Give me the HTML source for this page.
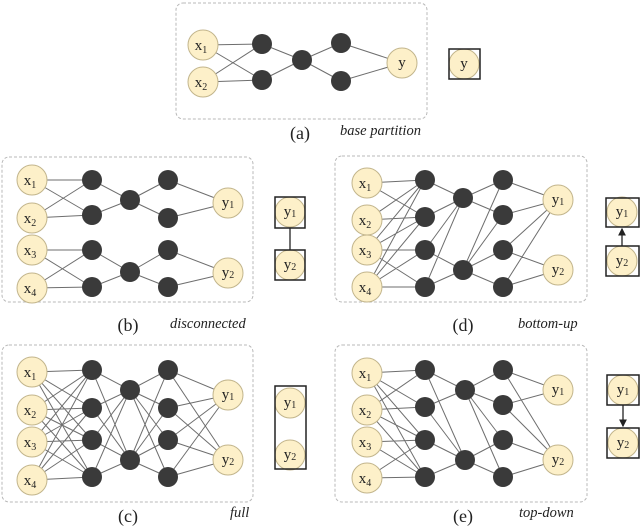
<!DOCTYPE html>
<html><head><meta charset="utf-8"><style>
html,body{margin:0;padding:0;background:#fff;}
svg{display:block;}
.e{stroke:#6e6e6e;stroke-width:1;fill:none;}
.box{fill:none;stroke:#b8b8b8;stroke-width:1;stroke-dasharray:3,2;}
.in{fill:#fdf0c9;stroke:#c2b58c;stroke-width:1;}
.h{fill:#3a3a3a;}
.t{font-family:"Liberation Serif",serif;font-size:15px;fill:#222;text-anchor:middle;}
.s{font-size:10px;}
.lab{font-family:"Liberation Serif",serif;font-size:18px;fill:#222;text-anchor:middle;}
.it{font-family:"Liberation Serif",serif;font-size:14.5px;font-style:italic;fill:#222;}
.sq{fill:none;stroke:#222;stroke-width:1.5;}
</style></head><body>
<svg width="640" height="527" viewBox="0 0 640 527" xmlns="http://www.w3.org/2000/svg">
<defs><marker id="ar" markerWidth="6" markerHeight="6" refX="5" refY="3" orient="auto"><path d="M0 0L6 3L0 6z" fill="#222"/></marker></defs>
<rect class="box" x="176" y="3" width="251" height="116" rx="7"/>
<rect class="box" x="2" y="157" width="251" height="145" rx="7"/>
<rect class="box" x="335" y="156" width="252" height="146" rx="7"/>
<rect class="box" x="2" y="345" width="251" height="157" rx="7"/>
<rect class="box" x="335" y="345" width="252" height="157" rx="7"/>

<path class="e" d="M203 45L262 44M203 45L262 80M203 82L262 44M203 82L262 80M262 44L302 60M262 80L302 60M302 60L341 43M302 60L341 81M341 43L402 63M341 81L402 63"/>
<path class="e" d="M32 180L92 180M32 180L92 215M32 218L92 180M32 218L92 215M92 180L130 200M92 215L130 200M130 200L168 180M130 200L168 218M168 180L228 203M168 218L228 203
M32 250L92 250M32 250L92 287M32 288L92 250M32 288L92 287M92 250L130 272M92 287L130 272M130 272L168 250M130 272L168 287M168 250L228 273M168 287L228 273"/>
<path class="e" d="M32 372L92 370M32 372L92 408M32 372L92 440M32 372L92 477
M32 410L92 370M32 410L92 408M32 410L92 440M32 410L92 477
M32 442L92 370M32 442L92 408M32 442L92 440M32 442L92 477
M32 480L92 370M32 480L92 408M32 480L92 440M32 480L92 477
M92 370L130 390M92 408L130 390M92 440L130 390M92 477L130 390
M92 370L130 460M92 408L130 460M92 440L130 460M92 477L130 460
M130 390L168 370M130 390L168 408M130 390L168 440M130 390L168 477
M130 460L168 370M130 460L168 408M130 460L168 440M130 460L168 477
M168 370L228 395M168 408L228 395M168 440L228 395M168 477L228 395
M168 370L228 460M168 408L228 460M168 440L228 460M168 477L228 460"/>
<path class="e" d="M367 183L425 180M367 183L425 217M367 220L425 180M367 220L425 217
M367 250L425 180M367 250L425 217M367 250L425 250M367 250L425 287
M367 287L425 180M367 287L425 217M367 287L425 250M367 287L425 287
M425 180L463 198M425 217L463 198M425 250L463 198M425 287L463 198
M425 250L463 270M425 287L463 270
M463 198L503 180M463 198L503 215
M463 270L503 180M463 270L503 215M463 270L503 250M463 270L503 287
M503 180L558 200M503 215L558 200M503 250L558 200M503 287L558 200
M503 250L558 270M503 287L558 270"/>
<path class="e" d="M367 373L425 370M367 373L425 407M367 373L425 440M367 373L425 477
M367 410L425 370M367 410L425 407M367 410L425 440M367 410L425 477
M367 442L425 440M367 442L425 477M367 478L425 440M367 478L425 477
M425 370L465 390M425 407L465 390M425 370L465 460M425 407L465 460
M425 440L465 460M425 477L465 460
M465 390L503 370M465 390L503 405M465 390L503 440M465 390L503 477
M465 460L503 440M465 460L503 477
M503 370L558 390M503 405L558 390M503 370L558 460M503 405L558 460
M503 440L558 460M503 477L558 460"/>

<g class="h">
<circle cx="262" cy="44" r="10"/><circle cx="262" cy="80" r="10"/><circle cx="302" cy="60" r="10"/><circle cx="341" cy="43" r="10"/><circle cx="341" cy="81" r="10"/>
<circle cx="92" cy="180" r="10"/><circle cx="92" cy="215" r="10"/><circle cx="130" cy="200" r="10"/><circle cx="168" cy="180" r="10"/><circle cx="168" cy="218" r="10"/>
<circle cx="92" cy="250" r="10"/><circle cx="92" cy="287" r="10"/><circle cx="130" cy="272" r="10"/><circle cx="168" cy="250" r="10"/><circle cx="168" cy="287" r="10"/>
<circle cx="92" cy="370" r="10"/><circle cx="92" cy="408" r="10"/><circle cx="92" cy="440" r="10"/><circle cx="92" cy="477" r="10"/>
<circle cx="130" cy="390" r="10"/><circle cx="130" cy="460" r="10"/>
<circle cx="168" cy="370" r="10"/><circle cx="168" cy="408" r="10"/><circle cx="168" cy="440" r="10"/><circle cx="168" cy="477" r="10"/>
<circle cx="425" cy="180" r="10"/><circle cx="425" cy="217" r="10"/><circle cx="425" cy="250" r="10"/><circle cx="425" cy="287" r="10"/>
<circle cx="463" cy="198" r="10"/><circle cx="463" cy="270" r="10"/>
<circle cx="503" cy="180" r="10"/><circle cx="503" cy="215" r="10"/><circle cx="503" cy="250" r="10"/><circle cx="503" cy="287" r="10"/>
<circle cx="425" cy="370" r="10"/><circle cx="425" cy="407" r="10"/><circle cx="425" cy="440" r="10"/><circle cx="425" cy="477" r="10"/>
<circle cx="465" cy="390" r="10"/><circle cx="465" cy="460" r="10"/>
<circle cx="503" cy="370" r="10"/><circle cx="503" cy="405" r="10"/><circle cx="503" cy="440" r="10"/><circle cx="503" cy="477" r="10"/>
</g>

<g class="in">
<circle cx="203" cy="45" r="15"/><circle cx="203" cy="82" r="15"/><circle cx="402" cy="63" r="15"/><circle cx="464" cy="64" r="15"/>
<circle cx="32" cy="180" r="15"/><circle cx="32" cy="218" r="15"/><circle cx="32" cy="250" r="15"/><circle cx="32" cy="288" r="15"/>
<circle cx="228" cy="203" r="15"/><circle cx="228" cy="273" r="15"/><circle cx="290" cy="212" r="15"/><circle cx="290" cy="265" r="15"/>
<circle cx="32" cy="372" r="15"/><circle cx="32" cy="410" r="15"/><circle cx="32" cy="442" r="15"/><circle cx="32" cy="480" r="15"/>
<circle cx="228" cy="395" r="15"/><circle cx="228" cy="460" r="15"/><circle cx="290" cy="403" r="15"/><circle cx="290" cy="455" r="15"/>
<circle cx="367" cy="183" r="15"/><circle cx="367" cy="220" r="15"/><circle cx="367" cy="250" r="15"/><circle cx="367" cy="287" r="15"/>
<circle cx="558" cy="200" r="15"/><circle cx="558" cy="270" r="15"/><circle cx="622" cy="212" r="15"/><circle cx="622" cy="261" r="15"/>
<circle cx="367" cy="373" r="15"/><circle cx="367" cy="410" r="15"/><circle cx="367" cy="442" r="15"/><circle cx="367" cy="478" r="15"/>
<circle cx="558" cy="390" r="15"/><circle cx="558" cy="460" r="15"/><circle cx="623" cy="390" r="15"/><circle cx="623" cy="443" r="15"/>
</g>

<rect class="sq" x="449" y="49" width="31" height="30"/>
<rect class="sq" x="275" y="197" width="30" height="31"/>
<rect class="sq" x="275" y="250" width="30" height="30"/>
<line x1="290" y1="228" x2="290" y2="250" stroke="#222" stroke-width="1.3"/>
<rect class="sq" x="275" y="386" width="31" height="83"/>
<rect class="sq" x="606" y="198" width="33" height="29"/>
<rect class="sq" x="606" y="246" width="33" height="30"/>
<line x1="622" y1="246" x2="622" y2="229" stroke="#222" stroke-width="1.3" marker-end="url(#ar)"/>
<rect class="sq" x="607" y="375" width="32" height="30"/>
<rect class="sq" x="607" y="428" width="32" height="30"/>
<line x1="623" y1="405" x2="623" y2="426" stroke="#222" stroke-width="1.3" marker-end="url(#ar)"/>

<g class="t">
<text x="201" y="50">x<tspan class="s" dy="3">1</tspan></text>
<text x="201" y="87">x<tspan class="s" dy="3">2</tspan></text>
<text x="402" y="67">y</text>
<text x="464" y="68">y</text>
<text x="30" y="185">x<tspan class="s" dy="3">1</tspan></text>
<text x="30" y="223">x<tspan class="s" dy="3">2</tspan></text>
<text x="30" y="255">x<tspan class="s" dy="3">3</tspan></text>
<text x="30" y="293">x<tspan class="s" dy="3">4</tspan></text>
<text x="228" y="207">y<tspan class="s" dy="1">1</tspan></text>
<text x="228" y="277">y<tspan class="s" dy="1">2</tspan></text>
<text x="290" y="216">y<tspan class="s" dy="1">1</tspan></text>
<text x="290" y="269">y<tspan class="s" dy="1">2</tspan></text>
<text x="30" y="377">x<tspan class="s" dy="3">1</tspan></text>
<text x="30" y="415">x<tspan class="s" dy="3">2</tspan></text>
<text x="30" y="447">x<tspan class="s" dy="3">3</tspan></text>
<text x="30" y="485">x<tspan class="s" dy="3">4</tspan></text>
<text x="228" y="399">y<tspan class="s" dy="1">1</tspan></text>
<text x="228" y="464">y<tspan class="s" dy="1">2</tspan></text>
<text x="290" y="407">y<tspan class="s" dy="1">1</tspan></text>
<text x="290" y="459">y<tspan class="s" dy="1">2</tspan></text>
<text x="365" y="188">x<tspan class="s" dy="3">1</tspan></text>
<text x="365" y="225">x<tspan class="s" dy="3">2</tspan></text>
<text x="365" y="255">x<tspan class="s" dy="3">3</tspan></text>
<text x="365" y="292">x<tspan class="s" dy="3">4</tspan></text>
<text x="558" y="204">y<tspan class="s" dy="1">1</tspan></text>
<text x="558" y="274">y<tspan class="s" dy="1">2</tspan></text>
<text x="622" y="216">y<tspan class="s" dy="1">1</tspan></text>
<text x="622" y="265">y<tspan class="s" dy="1">2</tspan></text>
<text x="365" y="378">x<tspan class="s" dy="3">1</tspan></text>
<text x="365" y="415">x<tspan class="s" dy="3">2</tspan></text>
<text x="365" y="447">x<tspan class="s" dy="3">3</tspan></text>
<text x="365" y="483">x<tspan class="s" dy="3">4</tspan></text>
<text x="558" y="394">y<tspan class="s" dy="1">1</tspan></text>
<text x="558" y="464">y<tspan class="s" dy="1">2</tspan></text>
<text x="623" y="394">y<tspan class="s" dy="1">1</tspan></text>
<text x="623" y="447">y<tspan class="s" dy="1">2</tspan></text>
</g>

<text class="lab" x="300" y="139">(a)</text>
<text class="it" x="340" y="135">base partition</text>
<text class="lab" x="128" y="331">(b)</text>
<text class="it" x="170" y="328">disconnected</text>
<text class="lab" x="463" y="331">(d)</text>
<text class="it" x="518" y="328">bottom-up</text>
<text class="lab" x="128" y="522">(c)</text>
<text class="it" x="230" y="517">full</text>
<text class="lab" x="463" y="522">(e)</text>
<text class="it" x="519" y="517">top-down</text>
</svg>
</body></html>
